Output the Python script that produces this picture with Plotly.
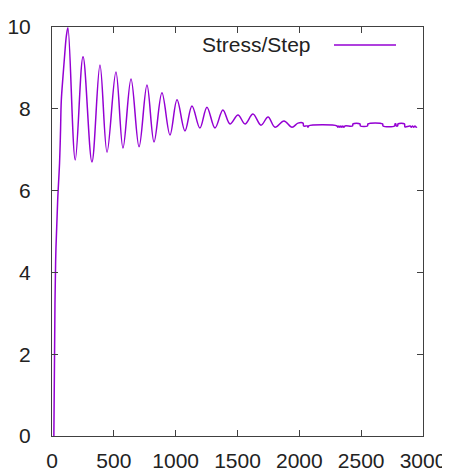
import plotly.graph_objects as go

# Stress/Step series
steps = [15, 24, 32, 46, 61, 69, 75, 89, 103, 116, 129,
         188, 251, 323, 388, 445, 517, 574, 639, 704, 768, 825, 889, 954,
         1011, 1075, 1132, 1196, 1253, 1318, 1382, 1439, 1504, 1561, 1625,
         1690, 1747, 1803, 1876, 1941, 1989, 2030, 2035, 2065, 2070, 2075,
         2305, 2312, 2320, 2328, 2336, 2344, 2352, 2360, 2369, 2430, 2434,
         2490, 2494, 2551, 2555, 2673, 2677, 2770, 2774, 2780, 2784, 2795,
         2798, 2850, 2854, 2895, 2905, 2915, 2925, 2935, 2945, 2951]
stress = [0.0, 3.25, 4.6, 5.77, 6.67, 7.46, 8.19, 8.8, 9.34, 9.78, 9.98,
          6.75, 9.27, 6.70, 9.07, 6.94, 8.90, 7.04, 8.73, 7.07, 8.58, 7.19, 8.39, 7.36,
          8.22, 7.46, 8.07, 7.53, 8.04, 7.53, 7.97, 7.63, 7.85, 7.63, 7.87,
          7.60, 7.80, 7.55, 7.70, 7.55, 7.65, 7.65, 7.58, 7.58, 7.55, 7.58,
          7.58, 7.55, 7.58, 7.55, 7.58, 7.55, 7.58, 7.55, 7.58, 7.58, 7.63,
          7.63, 7.58, 7.58, 7.63, 7.63, 7.58, 7.58, 7.63, 7.63, 7.58, 7.58,
          7.63, 7.63, 7.56, 7.58, 7.55, 7.58, 7.55, 7.58, 7.55, 7.56]

x_ticks = [0, 500, 1000, 1500, 2000, 2500, 3000]
y_ticks = [0, 2, 4, 6, 8, 10]
series_name = "Stress/Step"
line_color = "#9400D3"
frame_color = "#404040"
font_family = "Liberation Sans, Arial, sans-serif"

fig = go.Figure()
fig.add_trace(go.Scatter(x=steps, y=stress, mode="lines", name=series_name,
                         line=dict(color=line_color, width=1.5,
                                   shape="spline", smoothing=1.0),
                         showlegend=False, cliponaxis=True))

axis_common = dict(showgrid=False, zeroline=False, showline=True,
                   linecolor=frame_color, linewidth=1, mirror="ticks",
                   ticks="inside", ticklen=6, tickwidth=1, tickcolor=frame_color,
                   automargin=False,
                   tickfont=dict(family=font_family, size=21, color="#222222"))

fig.update_xaxes(range=[0, 3000], tickvals=x_ticks, ticklabelstandoff=6,
                 **axis_common)
fig.update_yaxes(range=[0, 10], tickvals=y_ticks, ticklabelstandoff=16,
                 **axis_common)

# gnuplot-style key: text then line sample (paper coordinates)
fig.add_annotation(xref="paper", yref="paper", x=(313 - 52) / 371, y=(436 - 45) / 409,
                   text=series_name, showarrow=False, xanchor="right", yanchor="middle",
                   font=dict(family=font_family, size=21, color="#222222"))
fig.add_shape(type="line", xref="paper", yref="paper",
              x0=(334 - 52) / 371, x1=(396 - 52) / 371,
              y0=(436 - 45) / 409, y1=(436 - 45) / 409,
              line=dict(color=line_color, width=1.5))

# the page body adds an 8px offset, so size/margins compensate for it
fig.update_layout(width=442, height=464,
                  margin=dict(l=44, r=27, t=19, b=36),
                  plot_bgcolor="white", paper_bgcolor="white",
                  font=dict(family=font_family, size=21, color="#222222"))

fig.write_html("out.html")
